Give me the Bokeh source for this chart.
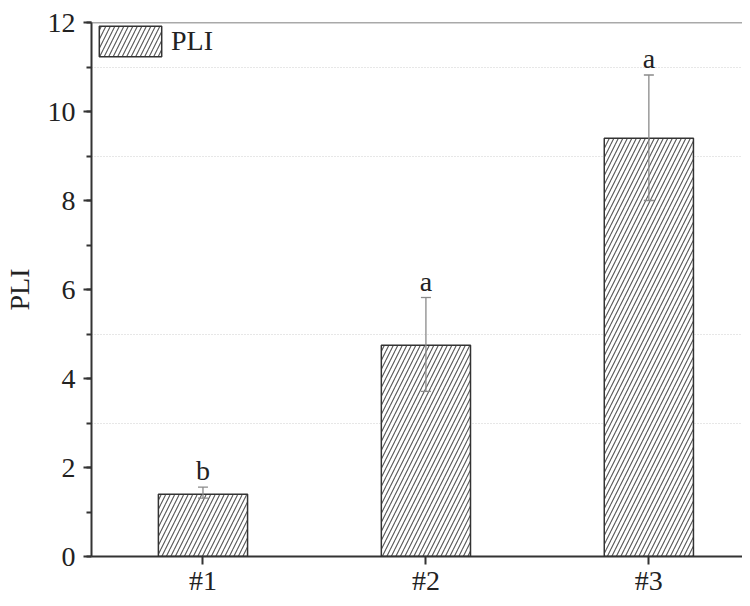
from bokeh.plotting import figure
from bokeh.models import (ColumnDataSource, FixedTicker, SingleIntervalTicker, Whisker,
                          TeeHead, Span, Range1d, Legend, LegendItem)
from bokeh.core.properties import value
from bokeh.embed import file_html
from bokeh.resources import INLINE

categories = ["#1", "#2", "#3"]
pli_mean = [1.40, 4.75, 9.40]
err_lower = [1.31, 3.71, 8.00]
err_upper = [1.56, 5.82, 10.82]
letters = ["b", "a", "a"]
grid_lines = [3, 5, 9, 11]

xs = list(range(1, len(categories) + 1))
src = ColumnDataSource(dict(x=xs, top=pli_mean, lo=err_lower, hi=err_upper, lab=letters))

FONT = "Liberation Serif"
FS = "28px"

p = figure(width=742, height=598, output_backend="svg", toolbar_location=None,
           x_range=Range1d(0.5, 3.42), y_range=Range1d(0, 12),
           min_border_left=91, min_border_right=0, min_border_top=22, min_border_bottom=0)
p.outline_line_color = None
p.background_fill_color = "white"

bars = p.vbar(x="x", top="top", width=0.4, source=src, fill_color="white",
              line_color="#333333", line_width=1.5,
              hatch_pattern="/", hatch_color="#555555", hatch_scale=9, hatch_weight=1.1)

w = Whisker(base="x", upper="hi", lower="lo", source=src, line_color="#8a8a8a", line_width=1.3,
            upper_head=TeeHead(size=10, line_color="#8a8a8a", line_width=1.3),
            lower_head=TeeHead(size=10, line_color="#8a8a8a", line_width=1.3),
            level="overlay")
p.add_layout(w)

p.text(x="x", y="hi", text="lab", source=src, text_align="center", text_baseline="bottom",
       y_offset=-1, text_font=value(FONT), text_font_size=FS, text_color="#222222")

p.add_layout(Span(location=12, dimension="width", line_color="#555555", line_width=1.5))

# axes
p.xaxis.ticker = FixedTicker(ticks=xs)
p.xaxis.major_label_overrides = {x: c for x, c in zip(xs, categories)}
p.xaxis.minor_tick_line_color = None
p.yaxis.ticker = SingleIntervalTicker(interval=2, num_minor_ticks=2)
for ax in (p.xaxis, p.yaxis):
    ax.axis_line_color = "#333333"
    ax.axis_line_width = 2
    ax.major_tick_line_color = "#333333"
    ax.major_tick_line_width = 2
    ax.major_tick_out = 8
    ax.major_tick_in = 0
    ax.major_label_text_font = FONT
    ax.major_label_text_font_size = FS
    ax.major_label_text_color = "#222222"
p.yaxis.minor_tick_line_color = "#333333"
p.yaxis.minor_tick_line_width = 2
p.yaxis.minor_tick_out = 5
p.yaxis.minor_tick_in = 0
p.yaxis.major_label_standoff = 8
p.xaxis.major_label_standoff = 0
p.yaxis.axis_label = "PLI"
p.yaxis.axis_label_text_font = FONT
p.yaxis.axis_label_text_font_size = FS
p.yaxis.axis_label_text_font_style = "normal"
p.yaxis.axis_label_text_color = "#222222"
p.yaxis.axis_label_standoff = 10

p.xgrid.grid_line_color = None
p.ygrid.ticker = FixedTicker(ticks=grid_lines)
p.ygrid.grid_line_color = "#cfcfcf"
p.ygrid.grid_line_dash = "1 2"
p.ygrid.grid_line_width = 1

legend = Legend(items=[LegendItem(label="PLI", renderers=[bars])], location="top_left",
                glyph_width=78, glyph_height=38, label_text_font=FONT,
                label_text_font_size=FS, label_text_color="#222222",
                border_line_color=None, background_fill_alpha=0, margin=0, padding=4,
                label_standoff=2)
p.add_layout(legend)

open("out.html", "w").write(file_html(p, INLINE))
